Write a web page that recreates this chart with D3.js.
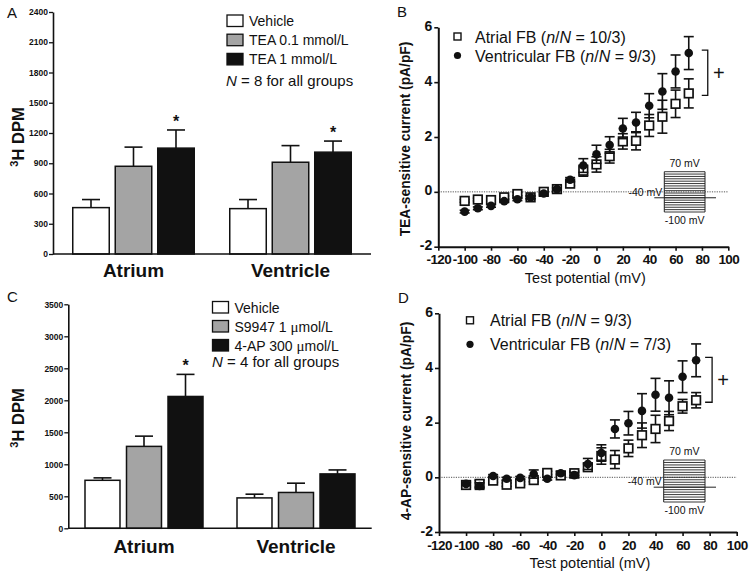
<!DOCTYPE html>
<html><head><meta charset="utf-8">
<script src="https://cdn.jsdelivr.net/npm/d3@7"></script>
<style>
body{margin:0;background:#fff}
svg{display:block}
text{font-family:"Liberation Sans",Arial,sans-serif;fill:#111}
</style>
</head><body>
<svg id="c" width="750" height="572"></svg>
<script>
// ---------- DATA ----------
const barCategories = ["Atrium", "Ventricle"];

// Panel A (TEA), 3H DPM
const seriesA = ["Vehicle", "TEA 0.1 mmol/L", "TEA 1 mmol/L"];
const aVehicle = [460, 450];
const aVehicleErr = [80, 90];
const aTEA01 = [870, 910];
const aTEA01Err = [190, 165];
const aTEA1 = [1050, 1010];
const aTEA1Err = [180, 110];
const ticksA = [0, 300, 600, 900, 1200, 1500, 1800, 2100, 2400];

// Panel C (S9947 / 4-AP), 3H DPM
const seriesC = ["Vehicle", "S9947 1 μmol/L", "4-AP 300 μmol/L"];
const cVehicle = [750, 475];
const cVehicleErr = [38, 58];
const cS9947 = [1280, 560];
const cS9947Err = [160, 145];
const c4AP = [2060, 850];
const c4APErr = [345, 62];
const ticksC = [0, 500, 1000, 1500, 2000, 2500, 3000, 3500];

// IV curves
const testPotentials = [-100, -90, -80, -70, -60, -50, -40, -30, -20, -10, 0, 10, 20, 30, 40, 50, 60, 70];
const xTicksIV = [-120, -100, -80, -60, -40, -20, 0, 20, 40, 60, 80, 100];
const yTicksIV = [-2, 0, 2, 4, 6];

// Panel B: TEA-sensitive current
const bAtrial = [-0.33, -0.28, -0.30, -0.20, -0.08, -0.20, 0.00, 0.10, 0.30, 0.77, 1.00, 1.30, 1.84, 1.86, 2.42, 2.74, 3.21, 3.59];
const bAtrialErr = [0.05, 0.05, 0.05, 0.05, 0.06, 0.05, 0.05, 0.05, 0.08, 0.20, 0.28, 0.25, 0.28, 0.33, 0.40, 0.60, 0.50, 0.53];
const bVentr = [-0.72, -0.60, -0.51, -0.34, -0.27, -0.20, -0.06, 0.10, 0.44, 0.96, 1.37, 1.71, 2.31, 2.53, 3.14, 3.66, 4.39, 5.06];
const bVentrErr = [0.05, 0.05, 0.05, 0.05, 0.05, 0.05, 0.05, 0.05, 0.08, 0.25, 0.33, 0.30, 0.37, 0.37, 0.44, 0.65, 0.60, 0.60];

// Panel D: 4-AP-sensitive current
const dAtrial = [-0.28, -0.24, -0.12, -0.27, -0.22, -0.10, 0.16, 0.07, 0.15, 0.37, 0.78, 0.65, 1.06, 1.54, 1.77, 2.06, 2.60, 2.82];
const dAtrialErr = [0.08, 0.12, 0.06, 0.06, 0.06, 0.06, 0.06, 0.06, 0.08, 0.12, 0.30, 0.33, 0.30, 0.45, 0.50, 0.35, 0.25, 0.28];
const dVentr = [-0.24, -0.32, 0.05, -0.05, -0.02, 0.12, -0.05, 0.15, 0.08, 0.49, 0.89, 1.77, 1.98, 2.43, 3.02, 2.91, 3.68, 4.28];
const dVentrErr = [0.06, 0.12, 0.05, 0.05, 0.05, 0.15, 0.05, 0.06, 0.10, 0.20, 0.30, 0.33, 0.43, 0.63, 0.60, 0.62, 0.58, 0.60];

// Voltage protocol steps (inset)
const protocolSteps = [-100, -90, -80, -70, -60, -50, -40, -30, -20, -10, 0, 10, 20, 30, 40, 50, 60, 70];
const holdingPotential = -40;

// ---------- DRAWING ----------
const svg = d3.select("#c");
const barFills = ["#ffffff", "#a4a4a4", "#111111"];
const plainFmt = d => String(d);

function barPanel(o) {
  const g = svg.append("g");
  const y = d3.scaleLinear().domain([0, o.yMax]).range([o.yBase, o.yTop]);
  const x = d3.scalePoint().domain(barCategories).range([o.xl, o.xr]).padding(o.pad);
  const xs = d3.scaleBand().domain(o.series).range([-o.half, o.half]).paddingInner(o.pin);
  const bw = xs.bandwidth();

  o.series.forEach((s, i) => {
    barCategories.forEach((c, j) => {
      const v = o.means[i][j], e = o.errs[i][j];
      const bx = x(c) + xs(s), cx = bx + bw / 2;
      g.append("line").attr("x1", cx).attr("x2", cx).attr("y1", y(v)).attr("y2", y(v + e))
        .attr("stroke", "#111").attr("stroke-width", 1.6);
      g.append("line").attr("x1", cx - 9).attr("x2", cx + 9).attr("y1", y(v + e)).attr("y2", y(v + e))
        .attr("stroke", "#111").attr("stroke-width", 1.6);
      g.append("rect").attr("x", bx).attr("y", y(v)).attr("width", bw).attr("height", y(0) - y(v))
        .attr("fill", barFills[i]).attr("stroke", "#111").attr("stroke-width", 1.5);
    });
  });
  // significance stars
  o.stars.forEach(([si, ci]) => {
    const c = barCategories[ci], s = o.series[si];
    const v = o.means[si][ci] + o.errs[si][ci];
    g.append("text").attr("x", x(c) + xs(s) + bw / 2).attr("y", y(v) - 3)
      .attr("text-anchor", "middle").attr("font-size", 16).attr("font-weight", "bold").text("*");
  });

  // axes
  const ax = g.append("g").attr("transform", `translate(${o.xl},0)`)
    .call(d3.axisLeft(y).tickValues(o.ticks).tickFormat(plainFmt).tickSize(4).tickSizeOuter(0).tickPadding(1));
  ax.select(".domain").attr("stroke", "#111").attr("stroke-width", 1.6);
  ax.selectAll(".tick line").attr("stroke", "#111").attr("stroke-width", 1.3);
  ax.selectAll(".tick text").attr("font-size", 8.5).attr("font-weight", "bold")
    .attr("font-family", '"Liberation Sans",Arial,sans-serif').attr("fill", "#111");
  g.append("line").attr("x1", o.xl).attr("x2", o.xr).attr("y1", y(0)).attr("y2", y(0))
    .attr("stroke", "#111").attr("stroke-width", 1.6);

  barCategories.forEach(c => {
    g.append("text").attr("x", x(c)).attr("y", o.catY).attr("text-anchor", "middle")
      .attr("font-size", 19).attr("font-weight", "bold").text(c);
  });

  // y label
  const yl = g.append("text").attr("transform", `translate(${o.ylx},${o.yly}) rotate(-90)`)
    .attr("text-anchor", "middle").attr("font-size", 16.5).attr("font-weight", "bold");
  yl.append("tspan").attr("font-size", 11).attr("dy", -6).text("3");
  yl.append("tspan").attr("dy", 6).text("H DPM");

  // panel letter
  g.append("text").attr("x", o.letterX).attr("y", o.letterY).attr("font-size", 15).text(o.letter);

  // legend
  o.series.forEach((s, i) => {
    const ly = o.legY + i * o.legStep;
    g.append("rect").attr("x", o.legX).attr("y", ly - 6).attr("width", 16).attr("height", 11.5)
      .attr("fill", barFills[i]).attr("stroke", "#111").attr("stroke-width", 1.3);
    const t = g.append("text").attr("x", o.legX + 22).attr("y", ly + 5).attr("font-size", 14);
    if (s.includes("μ")) {
      const parts = s.split("μ");
      t.append("tspan").text(parts[0]);
      t.append("tspan").attr("font-family", '"Liberation Serif","Times New Roman",serif').attr("font-size", 15).text("μ");
      t.append("tspan").text(parts[1]);
    } else t.text(s);
  });
  const nt = g.append("text").attr("x", o.legNX).attr("y", o.legNY).attr("font-size", 15)
    .attr("font-family", 'Lato,"Open Sans",sans-serif');
  nt.append("tspan").attr("font-style", "italic").text("N");
  nt.append("tspan").text(o.nText);
}

barPanel({
  series: seriesA, means: [aVehicle, aTEA01, aTEA1], errs: [aVehicleErr, aTEA01Err, aTEA1Err],
  ticks: ticksA, yMax: 2400, yBase: 254, yTop: 12, xl: 53, xr: 371, pad: 0.5127, half: 60.75, pin: 0.141,
  stars: [[2, 0], [2, 1]], catY: 277, ylx: 24, yly: 137, letter: "A", letterX: 7, letterY: 18,
  legX: 227, legY: 21, legStep: 19.2, legNX: 226, legNY: 86, nText: " = 8 for all groups"
});
barPanel({
  series: seriesC, means: [cVehicle, cS9947, c4AP], errs: [cVehicleErr, cS9947Err, c4APErr],
  ticks: ticksC, yMax: 3500, yBase: 528.3, yTop: 304.3, xl: 68.3, xr: 371.7, pad: 0.498, half: 59, pin: 0.157,
  stars: [[2, 0]], catY: 553, ylx: 24, yly: 418, letter: "C", letterX: 7, letterY: 302,
  legX: 212.5, legY: 307.5, legStep: 19, legNX: 212, legNY: 367, nText: " = 4 for all groups"
});

function ivPanel(o) {
  const g = svg.append("g");
  const x = d3.scaleLinear().domain([-120, 100]).range([o.xl, o.xr]);
  const y = d3.scaleLinear().domain([-2, 6]).range([o.yb, o.yt]);

  // zero dotted line
  g.append("line").attr("x1", o.xl).attr("x2", o.xr).attr("y1", y(0)).attr("y2", y(0))
    .attr("stroke", "#555").attr("stroke-width", 1).attr("stroke-dasharray", "1.2,1.2");

  // inset protocol
  const ins = o.inset;
  const py = d3.scaleLinear().domain([-100, 70]).range([ins.bottom, ins.top]);
  protocolSteps.forEach(v => {
    g.append("line").attr("x1", ins.left).attr("x2", ins.right).attr("y1", py(v)).attr("y2", py(v))
      .attr("stroke", "#222").attr("stroke-width", 0.9);
  });
  g.append("line").attr("x1", ins.left).attr("x2", ins.left).attr("y1", py(70)).attr("y2", py(-100)).attr("stroke", "#222").attr("stroke-width", 1);
  g.append("line").attr("x1", ins.right).attr("x2", ins.right).attr("y1", py(70)).attr("y2", py(-100)).attr("stroke", "#222").attr("stroke-width", 1);
  g.append("line").attr("x1", ins.left - 10).attr("x2", ins.right + 11).attr("y1", py(holdingPotential)).attr("y2", py(holdingPotential))
    .attr("stroke", "#222").attr("stroke-width", 1);
  g.append("text").attr("x", (ins.left + ins.right) / 2).attr("y", py(70) - 5).attr("text-anchor", "middle").attr("font-size", 10.5).text("70 mV");
  g.append("text").attr("x", ins.left - 2).attr("y", py(holdingPotential) - 2).attr("text-anchor", "end").attr("font-size", 10.5).text("-40 mV");
  g.append("text").attr("x", (ins.left + ins.right) / 2).attr("y", py(-100) + 12).attr("text-anchor", "middle").attr("font-size", 10.5).text("-100 mV");

  function errBars(vals, errs) {
    testPotentials.forEach((t, i) => {
      const cx = x(t), y1 = y(vals[i] - errs[i]), y2 = y(vals[i] + errs[i]);
      g.append("line").attr("x1", cx).attr("x2", cx).attr("y1", y1).attr("y2", y2).attr("stroke", "#111").attr("stroke-width", 1.6);
      [y1, y2].forEach(yy => g.append("line").attr("x1", cx - 5).attr("x2", cx + 5).attr("y1", yy).attr("y2", yy)
        .attr("stroke", "#111").attr("stroke-width", 1.6));
    });
  }
  // atrial squares
  errBars(o.atr, o.atrErr);
  testPotentials.forEach((t, i) => {
    g.append("rect").attr("x", x(t) - 4.3).attr("y", y(o.atr[i]) - 4.3).attr("width", 8.6).attr("height", 8.6)
      .attr("fill", "#fff").attr("stroke", "#111").attr("stroke-width", 1.7);
  });
  // ventricular circles
  errBars(o.ven, o.venErr);
  testPotentials.forEach((t, i) => {
    g.append("circle").attr("cx", x(t)).attr("cy", y(o.ven[i])).attr("r", 4.3).attr("fill", "#111");
  });

  // bracket
  const last = testPotentials.length - 1;
  const bx = x(70);
  const top = y(o.ven[last]) - 3, bot = y(o.atr[last]) + 2;
  g.append("path").attr("d", `M${bx + o.br[0]},${top}H${bx + o.br[1]}V${bot}H${bx + o.br[0]}`)
    .attr("fill", "none").attr("stroke", "#111").attr("stroke-width", 1.3);
  g.append("text").attr("x", bx + o.br[2]).attr("y", (top + bot) / 2 + 7).attr("text-anchor", "middle")
    .attr("font-size", 20).text("+");

  // axes
  const axx = g.append("g").attr("transform", `translate(0,${o.yb})`)
    .call(d3.axisBottom(x).tickValues(xTicksIV).tickFormat(plainFmt).tickSize(4).tickSizeOuter(0).tickPadding(3.5));
  const axy = g.append("g").attr("transform", `translate(${o.xl},0)`)
    .call(d3.axisLeft(y).tickValues(yTicksIV).tickFormat(plainFmt).tickSize(4).tickSizeOuter(0).tickPadding(2));
  [axx, axy].forEach(a => {
    a.select(".domain").attr("stroke", "#111").attr("stroke-width", 2);
    a.selectAll(".tick line").attr("stroke", "#111").attr("stroke-width", 1.6);
    a.selectAll(".tick text").attr("font-size", 13.5).attr("font-weight", "bold")
      .attr("font-family", '"Liberation Sans",Arial,sans-serif').attr("fill", "#111");
  });
  axy.selectAll(".tick text").attr("font-size", 14).attr("dy", "0.22em");
  axx.selectAll(".tick text").attr("dy", "0.75em").attr("letter-spacing", -0.6);
  g.append("text").attr("x", (o.xl + o.xr) / 2 + 2).attr("y", o.xtY).attr("text-anchor", "middle")
    .attr("font-size", 14.5).text("Test potential (mV)");
  g.append("text").attr("transform", `translate(${o.ylx},${o.yly}) rotate(-90)`).attr("text-anchor", "middle")
    .attr("font-size", 13.8).attr("font-weight", "bold").text(o.ylabel);
  g.append("text").attr("x", o.letterX).attr("y", o.letterY).attr("font-size", 15).text(o.letter);

  // legend
  g.append("rect").attr("x", o.leg[0] - 3.5).attr("y", o.leg[1] - 3.5).attr("width", 7).attr("height", 7)
    .attr("fill", "#fff").attr("stroke", "#111").attr("stroke-width", 1.4);
  g.append("circle").attr("cx", o.leg[0]).attr("cy", o.leg[1] + o.leg[3]).attr("r", 3.6).attr("fill", "#111");
  [o.legA, o.legV].forEach((lbl, k) => {
    const t = g.append("text").attr("x", o.leg[2]).attr("y", o.leg[1] + 6 + k * o.leg[3]).attr("font-size", 16);
    t.append("tspan").text(lbl[0] + " (");
    t.append("tspan").attr("font-style", "italic").text("n");
    t.append("tspan").text("/");
    t.append("tspan").attr("font-style", "italic").text("N");
    t.append("tspan").text(" = " + lbl[1] + ")");
  });
}

ivPanel({
  xl: 438.3, xr: 728.3, yb: 246.7, yt: 27.3,
  atr: bAtrial, atrErr: bAtrialErr, ven: bVentr, venErr: bVentrErr,
  inset: { left: 664.3, right: 705, top: 171.7, bottom: 212 },
  br: [13, 19, 30], xtY: 282.5, ylx: 410, yly: 139, ylabel: "TEA-sensitive current (pA/pF)",
  letter: "B", letterX: 397, letterY: 17,
  leg: [457.5, 36.5, 475, 19], legA: ["Atrial FB", "10/3"], legV: ["Ventricular FB", "9/3"]
});
ivPanel({
  xl: 439, xr: 736.7, yb: 532, yt: 313.3,
  atr: dAtrial, atrErr: dAtrialErr, ven: dVentr, venErr: dVentrErr,
  inset: { left: 663.7, right: 705, top: 460, bottom: 502 },
  br: [9, 16, 27], xtY: 567.5, ylx: 411, yly: 421, ylabel: "4-AP-sensitive current (pA/pF)",
  letter: "D", letterX: 398, letterY: 303,
  leg: [470, 320.3, 490, 24], legA: ["Atrial FB", "9/3"], legV: ["Ventricular FB", "7/3"]
});
</script>
</body></html>
